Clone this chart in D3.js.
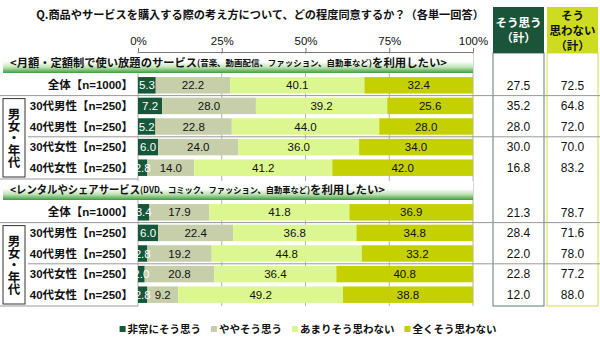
<!DOCTYPE html>
<html><head><meta charset="utf-8">
<script src="https://cdn.jsdelivr.net/npm/d3@7"></script>
<style>body{margin:0;background:#fff} svg{display:block}</style>
</head><body>
<svg id="c" width="600" height="341"></svg>
<script>
// ---------- DATA ----------
const title = "Q.商品やサービスを購入する際の考え方について、どの程度同意するか？（各単一回答）";
const categories = ["全体【n=1000】","30代男性【n=250】","40代男性【n=250】","30代女性【n=250】","40代女性【n=250】"];
const seriesNames = ["非常にそう思う","ややそう思う","あまりそう思わない","全くそう思わない"];
const tickValues = [0,25,50,75,100];
const tickLabels = ["0%","25%","50%","75%","100%"];
const groupLabel = "男女・年代";
const totalHeaderAgree = ["そう思う","（計）"];
const totalHeaderDisagree = ["そう","思わない","（計）"];

const sec1Title = ["<月額・定額制で使い放題のサービス","(音楽、動画配信、ファッション、自動車など)","を利用したい>"];
const sec1VeryAgree     = [5.3, 7.2, 5.2, 6.0, 2.8];
const sec1SomewhatAgree = [22.2, 28.0, 22.8, 24.0, 14.0];
const sec1NotMuch       = [40.1, 39.2, 44.0, 36.0, 41.2];
const sec1NotAtAll      = [32.4, 25.6, 28.0, 34.0, 42.0];
const sec1AgreeTotal    = [27.5, 35.2, 28.0, 30.0, 16.8];
const sec1DisagreeTotal = [72.5, 64.8, 72.0, 70.0, 83.2];

const sec2Title = ["<レンタルやシェアサービス","(DVD、コミック、ファッション、自動車など)","を利用したい>"];
const sec2VeryAgree     = [3.4, 6.0, 2.8, 2.0, 2.8];
const sec2SomewhatAgree = [17.9, 22.4, 19.2, 20.8, 9.2];
const sec2NotMuch       = [41.8, 36.8, 44.8, 36.4, 49.2];
const sec2NotAtAll      = [36.9, 34.8, 33.2, 40.8, 38.8];
const sec2AgreeTotal    = [21.3, 28.4, 22.0, 22.8, 12.0];
const sec2DisagreeTotal = [78.7, 71.6, 78.0, 77.2, 88.0];

// ---------- STYLE / LAYOUT ----------
const colors = ["#16573a","#c6cfaa","#dcf790","#c5d000"];
const labelColors = ["#fff","#111","#111","#111"];
const FONT = "'Liberation Sans', Arial, 'Noto Sans CJK JP', sans-serif";
const JFONT = "'Noto Sans CJK JP', sans-serif";

const svg = d3.select("#c");
const W = 600, H = 341;
const x = d3.scaleLinear().domain([0,100]).range([138,473]);
const axisY = 52, plotBottom = 306;

const sections = [
  {top:75, title:sec1Title, widths:[187,175,75], sizes:[11,8.5,11], series:[sec1VeryAgree,sec1SomewhatAgree,sec1NotMuch,sec1NotAtAll], agree:sec1AgreeTotal, disagree:sec1DisagreeTotal},
  {top:202, title:sec2Title, widths:[130,170,75], sizes:[11,8.5,11], series:[sec2VeryAgree,sec2SomewhatAgree,sec2NotMuch,sec2NotAtAll], agree:sec2AgreeTotal, disagree:sec2DisagreeTotal}
];
const secH = 103;

// gradient for banners
const defs = svg.append("defs");
const grad = defs.append("linearGradient").attr("id","bn").attr("x1",0).attr("y1",0).attr("x2",0).attr("y2",1);
grad.append("stop").attr("offset","0%").attr("stop-color","#ffffff");
grad.append("stop").attr("offset","40%").attr("stop-color","#ffffff");
grad.append("stop").attr("offset","70%").attr("stop-color","#bfe3b4");
grad.append("stop").attr("offset","100%").attr("stop-color","#3f9d3f");

// title
svg.append("text").attr("x",260).attr("y",15).attr("dy","0.35em")
  .attr("text-anchor","middle").attr("font-family",JFONT).attr("font-weight","bold")
  .attr("font-size","11.2px").attr("fill","#111").text(title);

// right column boxes
const colAgree = {x0:493, x1:544}, colDis = {x0:547, x1:598};
svg.append("rect").attr("x",colAgree.x0).attr("y",53).attr("width",colAgree.x1-colAgree.x0).attr("height",plotBottom-53)
  .attr("fill","#fff").attr("stroke","#5b7f70").attr("stroke-width",1);
svg.append("rect").attr("x",colDis.x0).attr("y",53).attr("width",colDis.x1-colDis.x0).attr("height",plotBottom-53)
  .attr("fill","#fff").attr("stroke","#d3dd45").attr("stroke-width",1);
svg.append("rect").attr("x",colAgree.x0).attr("y",7).attr("width",colAgree.x1-colAgree.x0).attr("height",46).attr("fill","#1b5539");
svg.append("rect").attr("x",colDis.x0).attr("y",7).attr("width",colDis.x1-colDis.x0).attr("height",46).attr("fill","#cddc20");
totalHeaderAgree.forEach((t,i)=>{
  svg.append("text").attr("x",(colAgree.x0+colAgree.x1)/2).attr("y",23+i*14.5).attr("dy","0.35em")
   .attr("text-anchor","middle").attr("font-family",JFONT).attr("font-weight","bold").attr("font-size","11.5px")
   .attr("fill","#fff").text(t);
});
totalHeaderDisagree.forEach((t,i)=>{
  svg.append("text").attr("x",(colDis.x0+colDis.x1)/2).attr("y",16+i*15).attr("dy","0.35em")
   .attr("text-anchor","middle").attr("font-family",JFONT).attr("font-weight","bold").attr("font-size","11.5px")
   .attr("fill","#111").text(t);
});

// gridlines
svg.append("g").selectAll("line").data(tickValues).join("line")
  .attr("x1",d=>x(d)).attr("x2",d=>x(d)).attr("y1",axisY).attr("y2",plotBottom)
  .attr("stroke","#b0b0b0").attr("stroke-width",1);

// axis
const ax = svg.append("g").attr("transform",`translate(0,${axisY})`)
  .call(d3.axisTop(x).tickValues(tickValues).tickFormat((d,i)=>tickLabels[i]).tickSize(4).tickSizeOuter(0).tickPadding(3));
ax.selectAll("path,line").attr("stroke","#777");
ax.selectAll("text").attr("font-family",FONT).attr("font-size","11.5px").attr("fill","#111");

sections.forEach((s,si)=>{
  const y = d3.scaleBand().domain(categories).range([s.top, s.top+secH]).paddingInner(0.2).paddingOuter(0.1);
  const step = y.step();
  // banner
  svg.append("rect").attr("x",3).attr("y",s.top-21).attr("width",x(100)-3).attr("height",19).attr("fill","url(#bn)");
  let bx = 10;
  s.title.forEach((t,k)=>{
    svg.append("text").attr("x",bx).attr("y",s.top-12).attr("dy","0.35em")
      .attr("font-family",JFONT).attr("font-weight","bold").attr("fill","#111")
      .attr("font-size",s.sizes[k]+"px").attr("textLength",s.widths[k]).attr("lengthAdjust","spacingAndGlyphs").text(t);
    bx += s.widths[k];
  });

  // separators
  svg.append("line").attr("x1",0).attr("x2",W).attr("y1",s.top+step).attr("y2",s.top+step).attr("stroke","#999");
  svg.append("line").attr("x1",28).attr("x2",W).attr("y1",s.top+3*step).attr("y2",s.top+3*step).attr("stroke","#999");
  svg.append("line").attr("x1",0).attr("x2",x(0)).attr("y1",s.top+secH+1).attr("y2",s.top+secH+1).attr("stroke","#999");

  // group box
  const by0 = s.top+step+3, by1 = s.top+secH;
  svg.append("rect").attr("x",3).attr("y",by0).attr("width",22).attr("height",by1-by0-1)
    .attr("fill","#fff").attr("stroke","#333").attr("stroke-width",1);
  const gc = (by0+by1)/2;
  svg.append("text").attr("x",14).attr("y",gc).attr("writing-mode","tb").attr("text-anchor","middle")
    .attr("font-family",JFONT).attr("font-weight","bold").attr("font-size","12.5px").attr("fill","#111")
    .attr("letter-spacing","-0.5px").text(groupLabel);

  // row labels
  svg.append("g").selectAll("text").data(categories).join("text")
    .attr("x",133).attr("y",d=>y(d)+y.bandwidth()/2).attr("dy","0.35em")
    .attr("text-anchor","end").attr("font-family",FONT).attr("font-weight","bold").attr("font-size","11.5px")
    .attr("fill","#111").text(d=>d);

  // stacked bars
  const rows = categories.map((c,i)=>{const o={cat:c}; seriesNames.forEach((n,k)=>o[n]=s.series[k][i]); return o;});
  const stacked = d3.stack().keys(seriesNames)(rows);
  stacked.forEach((layer,k)=>{
    svg.append("g").selectAll("rect").data(layer).join("rect")
      .attr("x",d=>x(d[0])).attr("width",d=>x(d[1])-x(d[0]))
      .attr("y",d=>y(d.data.cat)).attr("height",y.bandwidth()).attr("fill",colors[k]);
  });
  stacked.forEach((layer,k)=>{
    svg.append("g").selectAll("text").data(layer).join("text")
      .attr("x",d=>(x(d[0])+x(d[1]))/2).attr("y",d=>y(d.data.cat)+y.bandwidth()/2).attr("dy","0.35em")
      .attr("text-anchor","middle").attr("font-family",FONT).attr("font-size","11.5px").attr("fill",labelColors[k])
      .text(d=>(d[1]-d[0]).toFixed(1));
  });

  // totals
  svg.append("g").selectAll("text").data(s.agree).join("text")
    .attr("x",(colAgree.x0+colAgree.x1)/2).attr("y",(d,i)=>y(categories[i])+y.bandwidth()/2).attr("dy","0.35em")
    .attr("text-anchor","middle").attr("font-family",FONT).attr("font-size","12px").attr("fill","#111")
    .text(d=>d.toFixed(1));
  svg.append("g").selectAll("text").data(s.disagree).join("text")
    .attr("x",(colDis.x0+colDis.x1)/2).attr("y",(d,i)=>y(categories[i])+y.bandwidth()/2).attr("dy","0.35em")
    .attr("text-anchor","middle").attr("font-family",FONT).attr("font-size","12px").attr("fill","#111")
    .text(d=>d.toFixed(1));
});

// legend
const lg = svg.append("g");
let lx = 0;
seriesNames.forEach((n,k)=>{
  const g = lg.append("g").attr("transform",`translate(${lx},0)`);
  g.append("rect").attr("x",0).attr("y",-3).attr("width",6).attr("height",6).attr("fill",colors[k]);
  const t = g.append("text").attr("x",8).attr("y",0).attr("dy","0.35em").attr("font-family",JFONT)
    .attr("font-weight","bold").attr("font-size","10.5px").attr("fill","#111").text(n);
  lx += 8 + t.node().getComputedTextLength() + 10;
});
const lw = lx - 10;
lg.attr("transform",`translate(${308 - lw/2},329)`);
</script>
</body></html>
